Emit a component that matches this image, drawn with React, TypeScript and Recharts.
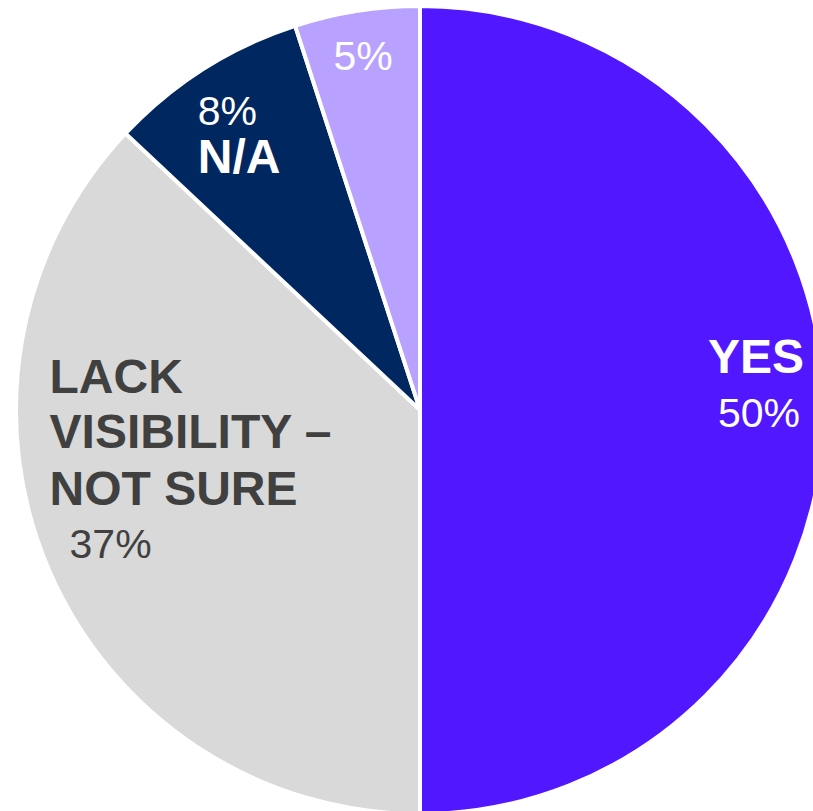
import React from "react";
import { PieChart, Pie, Cell } from "recharts";

const categories = ["YES", "LACK VISIBILITY – NOT SURE", "N/A", "OTHER"];
const values = [50, 37, 8, 5];
const labelLines: string[][] = [["YES"], ["LACK", "VISIBILITY –", "NOT SURE"], ["N/A"], []];
const COLORS = ["#5117FF", "#D9D9D9", "#00275F", "#B9A2FF"];
const TEXT_COLORS = ["#FFFFFF", "#404040", "#FFFFFF", "#FFFFFF"];

const data = categories.map((name, i) => ({ name, value: values[i] }));

const RAD = Math.PI / 180;
const FONT = "'Liberation Sans', Arial, sans-serif";

// label layout: radius ratio along the slice's mid angle, text anchor, line offsets
const LAYOUT = [
  { ratio: 0.834, anchor: "middle", name: [{ dx: -1, dy: -37 }], pct: { dx: 2, dy: 17 } },
  {
    ratio: 0.6,
    anchor: "start",
    name: [
      { dx: -148, dy: -113 },
      { dx: -148, dy: -58 },
      { dx: -148, dy: -1 },
    ],
    pct: { dx: -128, dy: 52 },
  },
  { ratio: 0.8, anchor: "start", name: [{ dx: -49, dy: 36 }], pct: { dx: -49, dy: -12 } },
  { ratio: 0.87, anchor: "middle", name: [], pct: { dx: -2, dy: 7 } },
];

const renderLabel = (props: any) => {
  const { cx, cy, midAngle, outerRadius, index } = props;
  const cfg = LAYOUT[index];
  const r = outerRadius * cfg.ratio;
  const x = cx + r * Math.cos(-midAngle * RAD);
  const y = cy + r * Math.sin(-midAngle * RAD);
  const fill = TEXT_COLORS[index];
  return (
    <g key={`lbl-${index}`}>
      {labelLines[index].map((line, j) => (
        <text
          key={j}
          x={x + cfg.name[j].dx}
          y={y + cfg.name[j].dy}
          textAnchor={cfg.anchor as any}
          fill={fill}
          fontFamily={FONT}
          fontWeight="bold"
          fontSize={48}
        >
          {line}
        </text>
      ))}
      <text
        x={x + cfg.pct.dx}
        y={y + cfg.pct.dy}
        textAnchor={cfg.anchor as any}
        fill={fill}
        fontFamily={FONT}
        fontSize={41}
      >
        {`${values[index]}%`}
      </text>
    </g>
  );
};

export default function App() {
  return (
    <div style={{ position: "fixed", left: 0, top: 0, width: 813, height: 811, background: "#fff", overflow: "hidden" }}>
      <PieChart width={813} height={811} margin={{ top: 0, right: 0, bottom: 0, left: 0 }}>
        <Pie
          data={data}
          dataKey="value"
          nameKey="name"
          cx={420}
          cy={410}
          outerRadius={404}
          startAngle={90}
          endAngle={-270}
          stroke="#FFFFFF"
          strokeWidth={4}
          label={renderLabel}
          labelLine={false}
          isAnimationActive={false}
        >
          {data.map((d, i) => (
            <Cell key={d.name} fill={COLORS[i]} />
          ))}
        </Pie>
      </PieChart>
    </div>
  );
}
